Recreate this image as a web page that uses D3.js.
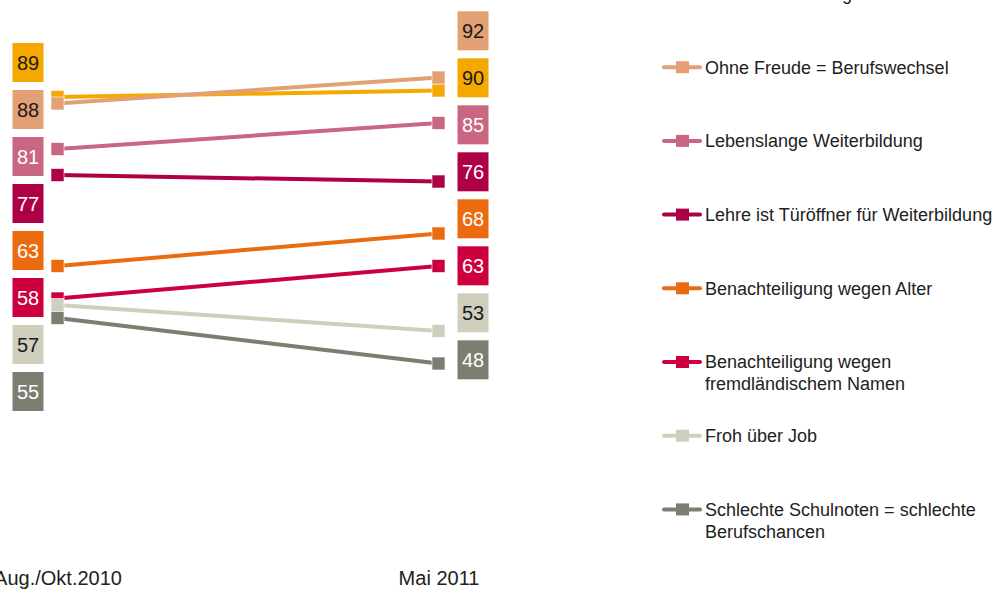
<!DOCTYPE html>
<html lang="de">
<head>
<meta charset="utf-8">
<title>Einstellungen zur Berufsbildung</title>
<script src="https://cdn.jsdelivr.net/npm/d3@7"></script>
<style>
  html, body { margin: 0; padding: 0; background: #fff; }
  svg { display: block; font-family: "Liberation Sans", Arial, sans-serif; }
</style>
</head>
<body>
<svg id="chart" width="1002" height="590"></svg>
<script>
// Survey waves (x categories)
const periods = ["Aug./Okt.2010", "Mai 2011"];

// Statements, in legend / drawing order
const seriesNames = [
  "Lehre ist Berufung",
  "Ohne Freude = Berufswechsel",
  "Lebenslange Weiterbildung",
  "Lehre ist Türöffner für Weiterbildung",
  "Benachteiligung wegen Alter",
  "Benachteiligung wegen fremdländischem Namen",
  "Froh über Job",
  "Schlechte Schulnoten = schlechte Berufschancen"
];

// Legend text split into display lines
const legendLines = [
  ["Lehre ist Berufung"],
  ["Ohne Freude = Berufswechsel"],
  ["Lebenslange Weiterbildung"],
  ["Lehre ist Türöffner für Weiterbildung"],
  ["Benachteiligung wegen Alter"],
  ["Benachteiligung wegen", "fremdländischem Namen"],
  ["Froh über Job"],
  ["Schlechte Schulnoten = schlechte", "Berufschancen"]
];

// Agreement in percent per wave
const values2010 = [89, 88, 81, 77, 63, 58, 57, 55];
const values2011 = [90, 92, 85, 76, 68, 63, 53, 48];

// Series colours and whether the value label needs dark text
const colors = ["#f5a800", "#e3a074", "#c96682", "#ae0047", "#ea6c0e", "#cc003d", "#d0cfbe", "#7e7d72"];
const darkText = [true, true, false, false, false, false, true, false];

const series = seriesNames.map((name, i) => ({
  name, i,
  color: colors[i],
  values: [values2010[i], values2011[i]]
}));

const svg = d3.select("#chart");

const x = d3.scalePoint().domain(periods).range([57.5, 438.5]);
const y = d3.scaleLinear().domain([0, 100]).range([675.5, 25.5]);

// Slope lines with square end markers
const line = d3.line()
  .x((v, k) => x(periods[k]))
  .y(v => y(v));

const gSeries = svg.append("g");
series.forEach(s => {
  const g = gSeries.append("g");
  g.append("path")
    .attr("d", line(s.values))
    .attr("fill", "none")
    .attr("stroke", s.color)
    .attr("stroke-width", 4);
  g.selectAll("rect")
    .data(s.values)
    .join("rect")
    .attr("x", (v, k) => x(periods[k]) - 6.5)
    .attr("y", v => y(v) - 6.5)
    .attr("width", 13)
    .attr("height", 13)
    .attr("fill", s.color)
    .attr("stroke", "#fff")
    .attr("stroke-opacity", 0.6)
    .attr("stroke-width", 1);
});

// Spread value labels vertically so the boxes do not overlap:
// overlapping neighbours are merged into clusters centred on their mean target
function spread(targets, gap) {
  const order = d3.range(targets.length).sort((a, b) => targets[a] - targets[b]);
  const stack = [];
  order.forEach(i => {
    stack.push({ idx: [i], sum: targets[i] });
    while (stack.length > 1) {
      const b = stack[stack.length - 1], a = stack[stack.length - 2];
      const aTop = a.sum / a.idx.length - (a.idx.length - 1) * gap / 2;
      const bTop = b.sum / b.idx.length - (b.idx.length - 1) * gap / 2;
      if (aTop + a.idx.length * gap > bTop) {
        stack.pop();
        a.idx = a.idx.concat(b.idx);
        a.sum += b.sum;
      } else break;
    }
  });
  const out = new Array(targets.length);
  stack.forEach(c => {
    const top = c.sum / c.idx.length - (c.idx.length - 1) * gap / 2;
    c.idx.forEach((i, k) => { out[i] = top + k * gap; });
  });
  return out;
}

// Label column layout: centre x, vertical nudge of the whole column
const labelX = [28, 473];
const labelNudge = [13, -13];
const boxW = 31, boxH = 39, labelGap = 47;

periods.forEach((p, k) => {
  const ys = spread(series.map(s => y(s.values[k])), labelGap);
  const g = svg.append("g");
  series.forEach(s => {
    const cy = ys[s.i] + labelNudge[k];
    g.append("rect")
      .attr("x", labelX[k] - boxW / 2)
      .attr("y", cy - boxH / 2)
      .attr("width", boxW)
      .attr("height", boxH)
      .attr("fill", s.color);
    g.append("text")
      .attr("x", labelX[k])
      .attr("y", cy)
      .attr("dy", "0.36em")
      .attr("text-anchor", "middle")
      .attr("font-size", 20)
      .attr("fill", darkText[s.i] ? "#1a1a1a" : "#fff")
      .text(s.values[k]);
  });
});

// Category axis along the bottom
const axis = svg.append("g")
  .attr("transform", "translate(0,570.8)")
  .call(d3.axisBottom(x).tickSize(0).tickPadding(0));
axis.select(".domain").remove();
axis.selectAll("text")
  .attr("font-family", "Liberation Sans, Arial, sans-serif")
  .attr("font-size", 20)
  .attr("fill", "#222");

// Legend
const legend = svg.append("g");
const rowStep = 73.7, rowTop = -6.5;
series.forEach(s => {
  const cy = rowTop + s.i * rowStep;
  const g = legend.append("g");
  g.append("line")
    .attr("x1", 664).attr("x2", 700)
    .attr("y1", cy).attr("y2", cy)
    .attr("stroke", s.color)
    .attr("stroke-width", 4)
    .attr("stroke-linecap", "round");
  g.append("rect")
    .attr("x", 676).attr("y", cy - 6)
    .attr("width", 13).attr("height", 12)
    .attr("fill", s.color);
  const t = g.append("text")
    .attr("x", 705)
    .attr("y", cy)
    .attr("font-size", 18)
    .attr("fill", "#222");
  legendLines[s.i].forEach((ln, j) => {
    t.append("tspan")
      .attr("x", 705)
      .attr("dy", j === 0 ? "0.36em" : 22)
      .text(ln);
  });
});
</script>
</body>
</html>
